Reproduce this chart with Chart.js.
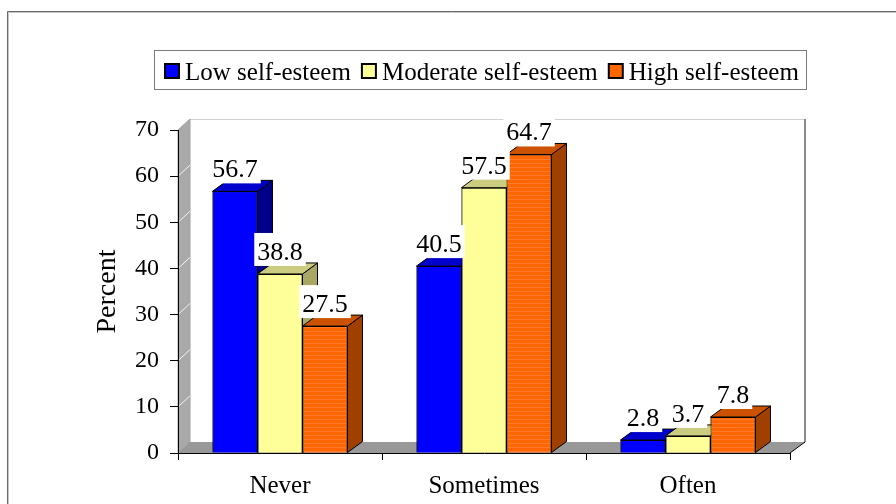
<!DOCTYPE html>
<html>
<head>
<meta charset="utf-8">
<script src="https://cdn.jsdelivr.net/npm/chart.js@4.4.1/dist/chart.umd.min.js"></script>
<style>
  html, body { margin: 0; padding: 0; background: #ffffff; }
  canvas { display: block; }
</style>
</head>
<body>
<canvas id="chart" width="896" height="504"></canvas>
<script>
// Self-esteem level by response category (percent)
const categories = ['Never', 'Sometimes', 'Often'];
const seriesNames = ['Low self-esteem', 'Moderate self-esteem', 'High self-esteem'];
const lowEsteem = [56.7, 40.5, 2.8];
const moderateEsteem = [38.8, 57.5, 3.7];
const highEsteem = [27.5, 64.7, 7.8];
const yTicks = [0, 10, 20, 30, 40, 50, 60, 70];

const SERIF = '"Liberation Serif", "Times New Roman", serif';
const DX = 15, DY = -11;       // depth offset of the bar blocks
const WALL_DX = 12, WALL_DY = -11;

const faces = [
  { front: '#0000ff', top: '#0000cc', side: '#000088' },
  { front: '#ffff99', top: '#cccc80', side: '#a8a864' },
  { front: '#ff6600', top: '#cc5200', side: '#a04000' }
];

const canvas = document.getElementById('chart');
const ctx0 = canvas.getContext('2d');

// faint horizontal stripes on the orange bars
function stripePattern(base, line) {
  const p = document.createElement('canvas');
  p.width = 8; p.height = 4;
  const g = p.getContext('2d');
  g.fillStyle = base; g.fillRect(0, 0, 8, 4);
  g.fillStyle = line; g.fillRect(0, 3, 8, 1);
  return ctx0.createPattern(p, 'repeat');
}

function poly(ctx, pts, fill) {
  ctx.beginPath();
  ctx.moveTo(pts[0][0], pts[0][1]);
  for (let i = 1; i < pts.length; i++) ctx.lineTo(pts[i][0], pts[i][1]);
  ctx.closePath();
  ctx.fillStyle = fill;
  ctx.fill();
  ctx.stroke();
}

const room3d = {
  id: 'room3d',
  beforeDraw(chart) {
    const { ctx, chartArea: a, scales: { y } } = chart;
    const y0 = y.getPixelForValue(y.min);
    const yTop = y.getPixelForValue(y.max);
    ctx.save();
    ctx.fillStyle = '#ffffff';
    ctx.fillRect(0, 0, chart.width, chart.height);

    // outer frame
    ctx.lineWidth = 1;
    ctx.strokeStyle = '#6a6a6a';
    ctx.beginPath(); ctx.moveTo(7.5, chart.height); ctx.lineTo(7.5, 11.5); ctx.lineTo(chart.width, 11.5); ctx.stroke();
    ctx.strokeStyle = '#c4c4c4';
    ctx.beginPath(); ctx.moveTo(8.5, chart.height); ctx.lineTo(8.5, 12.5); ctx.lineTo(chart.width, 12.5); ctx.stroke();

    // back wall edges
    const backR = a.right + DX;
    ctx.strokeStyle = '#d0d0d0';
    ctx.beginPath(); ctx.moveTo(a.left + WALL_DX, yTop + WALL_DY + 0.5); ctx.lineTo(backR, yTop + WALL_DY + 0.5); ctx.stroke();
    ctx.strokeStyle = '#8a8a8a';
    ctx.lineWidth = 2;
    ctx.beginPath(); ctx.moveTo(backR, yTop + WALL_DY); ctx.lineTo(backR, y0 + DY); ctx.stroke();

    // left side wall
    ctx.lineWidth = 1;
    ctx.strokeStyle = '#a0a0a0';
    poly(ctx, [[a.left, y0], [a.left, yTop], [a.left + WALL_DX, yTop + WALL_DY], [a.left + WALL_DX, y0 + WALL_DY]], '#a9a9a9');
    ctx.strokeStyle = '#f4f4f4';
    yTicks.slice(1, -1).forEach(v => {
      const py = y.getPixelForValue(v);
      ctx.beginPath(); ctx.moveTo(a.left, py); ctx.lineTo(a.left + WALL_DX, py + WALL_DY); ctx.stroke();
    });

    // floor
    ctx.strokeStyle = '#000000';
    ctx.fillStyle = '#999999';
    ctx.beginPath();
    ctx.moveTo(a.left, y0); ctx.lineTo(a.right, y0); ctx.lineTo(a.right + DX, y0 + DY);
    ctx.lineTo(a.left + WALL_DX, y0 + WALL_DY); ctx.closePath();
    ctx.fill();
    ctx.beginPath(); ctx.moveTo(a.right, y0); ctx.lineTo(a.right + DX, y0 + DY); ctx.stroke();
    ctx.restore();
  },
  afterDatasetsDraw(chart) {
    const ctx = chart.ctx;
    const metas = chart.data.datasets.map((d, i) => chart.getDatasetMeta(i));
    ctx.save();
    ctx.lineWidth = 1;
    ctx.strokeStyle = '#000000';
    ctx.lineJoin = 'miter';
    // blocks, left to right inside each group so the nearer faces overlap correctly
    for (let j = 0; j < categories.length; j++) {
      metas.forEach((meta, i) => {
        const el = meta.data[j];
        const { x, y, base, width } = el.getProps(['x', 'y', 'base', 'width'], true);
        const l = x - width / 2, r = x + width / 2;
        poly(ctx, [[r, y], [r + DX, y + DY], [r + DX, base + DY], [r, base]], faces[i].side);
        poly(ctx, [[l, y], [r, y], [r + DX, y + DY], [l + DX, y + DY]], faces[i].top);
        el.draw(ctx);
      });
    }
    // value labels on white boxes
    ctx.font = '26px ' + SERIF;
    ctx.textAlign = 'center';
    ctx.textBaseline = 'alphabetic';
    metas.forEach((meta, i) => {
      const values = chart.data.datasets[i].data;
      meta.data.forEach((el, j) => {
        const { x, y } = el.getProps(['x', 'y'], true);
        const txt = values[j].toFixed(1);
        const w = ctx.measureText(txt).width;
        const baseline = y - 14;
        ctx.fillStyle = '#ffffff';
        ctx.fillRect(x - w / 2 - 3, baseline - 27, w + 6, 33);
        ctx.fillStyle = '#000000';
        ctx.fillText(txt, x, baseline);
      });
    });
    ctx.restore();
  },
  afterDraw(chart) {
    const ctx = chart.ctx;
    ctx.save();
    ctx.lineWidth = 1;
    ctx.strokeStyle = '#7a7a7a';
    ctx.strokeRect(154.5, 50.5, 652, 39);
    ctx.font = '25px ' + SERIF;
    ctx.textAlign = 'left';
    ctx.textBaseline = 'alphabetic';
    let x = 165;
    chart.data.datasets.forEach((ds, i) => {
      ctx.fillStyle = faces[i].front;
      ctx.fillRect(x, 64, 14, 14);
      ctx.lineWidth = 2;
      ctx.strokeStyle = '#000000';
      ctx.strokeRect(x, 64, 14, 14);
      x += 14 + 6;
      ctx.fillStyle = '#000000';
      ctx.fillText(ds.label, x, 80);
      x += ctx.measureText(ds.label).width + 11;
    });
    ctx.restore();
  }
};

const seriesValues = [lowEsteem, moderateEsteem, highEsteem];
const datasets = seriesValues.map((vals, i) => ({
  label: seriesNames[i],
  data: vals,
  backgroundColor: i === 2 ? stripePattern(faces[2].front, '#ff7b2a') : faces[i].front,
  borderColor: '#000000',
  borderWidth: 1,
  borderSkipped: 'start',
  barPercentage: 1,
  categoryPercentage: 0.662
}));

new Chart(canvas, {
  type: 'bar',
  data: { labels: categories, datasets },
  plugins: [room3d],
  options: {
    responsive: false,
    animation: false,
    layout: { padding: { left: 0, top: 130, right: 106, bottom: 0 } },
    plugins: {
      legend: { display: false },
      title: { display: false },
      tooltip: { enabled: false }
    },
    scales: {
      x: {
        offset: true,
        grid: { display: true, drawOnChartArea: false, drawTicks: true, tickLength: 7, color: '#000000', offset: true },
        border: { display: true, color: '#000000', width: 1 },
        ticks: { color: '#000000', font: { family: SERIF, size: 25 }, padding: 11 },
        afterFit(scale) { scale.height = 51; }
      },
      y: {
        min: yTicks[0],
        max: yTicks[yTicks.length - 1],
        afterBuildTicks(scale) { scale.ticks = yTicks.map(v => ({ value: v })); },
        grid: { display: true, drawOnChartArea: false, drawTicks: true, tickLength: 8, color: '#000000' },
        border: { display: true, color: '#000000', width: 1 },
        ticks: { color: '#000000', font: { family: SERIF, size: 24 }, padding: 11 },
        title: { display: true, text: 'Percent', color: '#000000', font: { family: SERIF, size: 28 }, padding: { top: 91, bottom: 0 } },
        afterFit(scale) { scale.width = 178; }
      }
    }
  }
});
</script>
</body>
</html>
